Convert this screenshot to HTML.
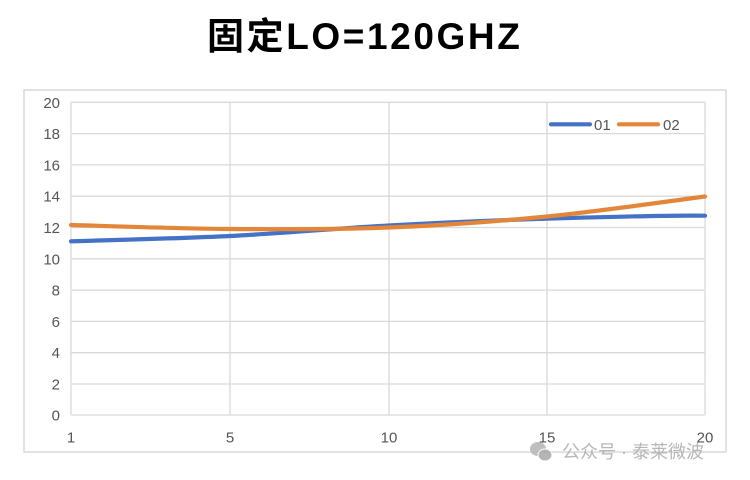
<!DOCTYPE html>
<html>
<head>
<meta charset="utf-8">
<style>
  html,body{margin:0;padding:0;background:#fff;}
  body{width:750px;height:480px;position:relative;overflow:hidden;font-family:"Liberation Sans","Noto Sans CJK SC",sans-serif;}
  .title{position:absolute;left:207px;top:15px;font-size:37px;font-weight:bold;color:#000;letter-spacing:2.6px;white-space:nowrap;line-height:44px;font-family:"Liberation Sans","Noto Sans CJK SC",sans-serif;}
  svg{position:absolute;left:0;top:0;}
</style>
</head>
<body>
<div class="title">固定LO=120GHZ</div>
<svg width="750" height="480" viewBox="0 0 750 480" xmlns="http://www.w3.org/2000/svg">
  <rect x="24" y="90" width="702" height="362" fill="#fff" stroke="#d9d9d9" stroke-width="1.5"/>
  <g stroke="#d9d9d9" stroke-width="1.3">
    <line x1="71" y1="102.3" x2="705" y2="102.3"/>
    <line x1="71" y1="133.6" x2="705" y2="133.6"/>
    <line x1="71" y1="164.9" x2="705" y2="164.9"/>
    <line x1="71" y1="196.2" x2="705" y2="196.2"/>
    <line x1="71" y1="227.5" x2="705" y2="227.5"/>
    <line x1="71" y1="258.8" x2="705" y2="258.8"/>
    <line x1="71" y1="290.1" x2="705" y2="290.1"/>
    <line x1="71" y1="321.4" x2="705" y2="321.4"/>
    <line x1="71" y1="352.7" x2="705" y2="352.7"/>
    <line x1="71" y1="384.0" x2="705" y2="384.0"/>
    <line x1="71" y1="415.0" x2="705" y2="415.0"/>
    <line x1="71" y1="102.3" x2="71" y2="415"/>
    <line x1="230" y1="102.3" x2="230" y2="415"/>
    <line x1="389" y1="102.3" x2="389" y2="415"/>
    <line x1="547" y1="102.3" x2="547" y2="415"/>
    <line x1="705" y1="102.3" x2="705" y2="415"/>
  </g>
  <g font-family="Liberation Sans, sans-serif" font-size="15" fill="#555" text-anchor="end">
    <text x="60" y="107.8">20</text>
    <text x="60" y="139.1">18</text>
    <text x="60" y="170.4">16</text>
    <text x="60" y="201.7">14</text>
    <text x="60" y="233.0">12</text>
    <text x="60" y="264.3">10</text>
    <text x="60" y="295.6">8</text>
    <text x="60" y="326.9">6</text>
    <text x="60" y="358.2">4</text>
    <text x="60" y="389.5">2</text>
    <text x="60" y="420.5">0</text>
  </g>
  <g font-family="Liberation Sans, sans-serif" font-size="15" fill="#555" text-anchor="middle">
    <text x="71" y="442.5">1</text>
    <text x="230" y="442.5">5</text>
    <text x="389" y="442.5">10</text>
    <text x="547" y="442.5">15</text>
    <text x="705" y="442.5">20</text>
  </g>
  <path d="M71,241.3 C97.5,240.4 177,238.6 230,236 C283,233.4 336.2,228.4 389,225.5 C441.8,222.6 494.3,220.3 547,218.7 C599.7,217.1 678.7,215.2 705,215.7"
        fill="none" stroke="#4472c4" stroke-width="4.2" stroke-linecap="round"/>
  <path d="M71,225 C97.5,225.7 177,228.6 230,229 C283,229.4 336.2,229.6 389,227.5 C441.8,225.4 494.3,221.7 547,216.5 C599.7,211.3 678.7,199.8 705,196.5"
        fill="none" stroke="#e3863a" stroke-width="4.2" stroke-linecap="round"/>
  <line x1="551" y1="124.3" x2="590" y2="124.3" stroke="#4472c4" stroke-width="4.2" stroke-linecap="round"/>
  <text x="594" y="129.8" font-family="Liberation Sans, sans-serif" font-size="15" fill="#555">01</text>
  <line x1="619" y1="124.3" x2="658" y2="124.3" stroke="#e3863a" stroke-width="4.2" stroke-linecap="round"/>
  <text x="663" y="129.8" font-family="Liberation Sans, sans-serif" font-size="15" fill="#555">02</text>
  <g opacity="0.85">
    <ellipse cx="538" cy="449" rx="8" ry="7" fill="#b5b5b5"/>
    <ellipse cx="545" cy="455" rx="7" ry="6" fill="#a9a9a9" stroke="#fff" stroke-width="1"/>
    <text x="562" y="458" font-family="Liberation Sans, Noto Sans CJK SC, sans-serif" font-size="18" fill="#ababab">公众号 · 泰莱微波</text>
  </g>
</svg>
</body>
</html>
